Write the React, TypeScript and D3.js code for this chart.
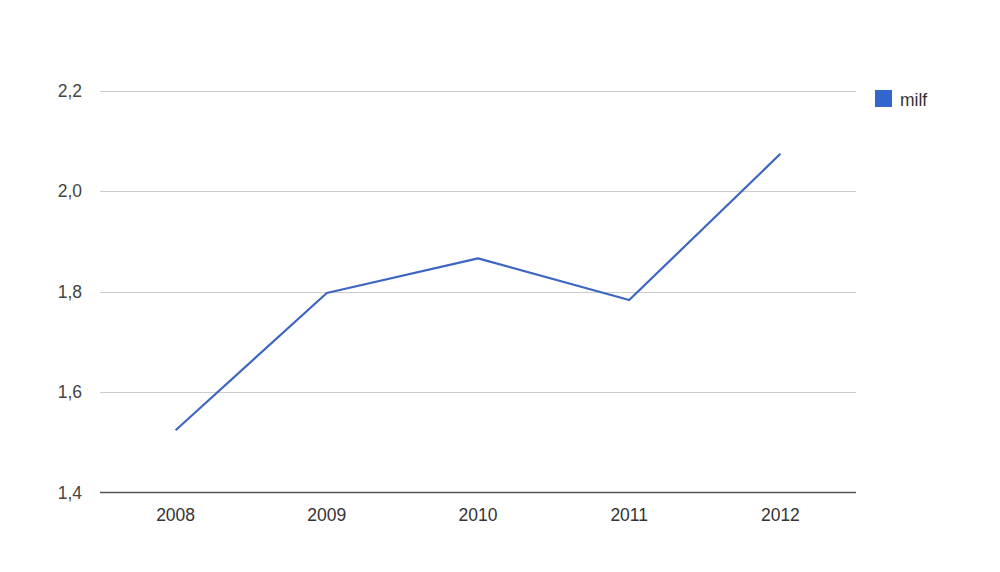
import React from "react";
import * as d3 from "d3";

const categories = ["2008", "2009", "2010", "2011", "2012"];
const seriesName = "milf";
const values = [1.524, 1.797, 1.866, 1.783, 2.074];
const yTicks = [1.4, 1.6, 1.8, 2.0, 2.2];

const W = 1000;
const H = 572;
const plot = { left: 100, right: 856, top: 90.5, bottom: 492.5 };

export default function App() {
  const x = d3.scaleBand<string>().domain(categories).range([plot.left, plot.right]);
  const y = d3.scaleLinear().domain([1.4, 2.2]).range([plot.bottom, plot.top]);
  const line = d3
    .line<number>()
    .x((_, i) => (x(categories[i]) as number) + x.bandwidth() / 2)
    .y((d) => y(d));
  const fmt = (v: number) => v.toFixed(1).replace(".", ",");
  const font = "'Liberation Sans', Arial, sans-serif";
  return (
    <svg
      width={W}
      height={H}
      style={{ position: "absolute", left: 0, top: 0, background: "#fff" }}
      fontFamily={font}
    >
      <rect x={0} y={0} width={W} height={H} fill="#fff" />
      {yTicks.map((t) => (
        <g key={t}>
          {t !== 1.4 && (
            <line
              x1={plot.left}
              x2={plot.right}
              y1={Math.round(y(t)) + 0.5}
              y2={Math.round(y(t)) + 0.5}
              stroke="#cccccc"
              strokeWidth={1}
            />
          )}
          <text
            x={82}
            y={y(t) + 6.3}
            textAnchor="end"
            fontSize={17.5}
            fill="#444444"
          >
            {fmt(t)}
          </text>
        </g>
      ))}
      <path
        d={line(values) || ""}
        fill="none"
        stroke="#3d66c0"
        strokeWidth={2.2}
        strokeLinejoin="round"
      />
      <line
        x1={plot.left}
        x2={plot.right}
        y1={y(1.4)}
        y2={y(1.4)}
        stroke="#555555"
        strokeWidth={1.5}
      />
      {categories.map((c) => (
        <text
          key={c}
          x={(x(c) as number) + x.bandwidth() / 2}
          y={521}
          textAnchor="middle"
          fontSize={17.5}
          fill="#333333"
        >
          {c}
        </text>
      ))}
      <rect x={875} y={90} width={17} height={17} fill="#3366cc" />
      <text x={900} y={106} fontSize={17.5} fill="#333333">
        {seriesName}
      </text>
    </svg>
  );
}
